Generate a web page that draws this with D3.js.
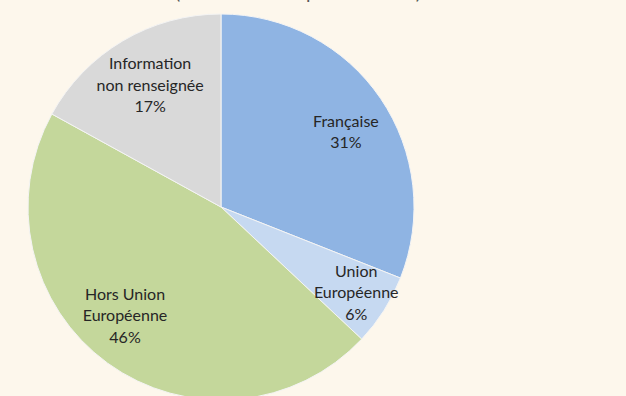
<!DOCTYPE html>
<html>
<head>
<meta charset="utf-8">
<script src="https://cdn.jsdelivr.net/npm/d3@7"></script>
<style>
  html, body { margin: 0; padding: 0; background: #fdf7ec; }
  svg { display: block; }
</style>
</head>
<body>
<svg id="chart" width="626" height="396"></svg>
<script>
// Répartition par nationalité
const categories = ["Française", "Union Européenne", "Hors Union Européenne", "Information non renseignée"];
const values = [31, 6, 46, 17];
const labelLines = [
  ["Française", "31%"],
  ["Union", "Européenne", "6%"],
  ["Hors Union", "Européenne", "46%"],
  ["Information", "non renseignée", "17%"]
];
const colors = ["#8fb4e3", "#c6d9f1", "#c4d79b", "#d9d9d9"];
const titleText = "(en % des entreprises créées)";

const svg = d3.select("#chart");
const cx = 221, cy = 207, r = 193;

// Title sits above the visible area; only its lowest strokes show
svg.append("text")
  .attr("x", 298).attr("y", -1)
  .attr("text-anchor", "middle")
  .attr("font-family", "Lato, 'Open Sans', sans-serif")
  .attr("font-size", 19.5)
  .attr("fill", "#595959")
  .text(titleText);

const data = categories.map((c, i) => ({ name: c, value: values[i], lines: labelLines[i], color: colors[i] }));

const pie = d3.pie().sort(null).value(d => d.value);
const arcs = pie(data);
const arc = d3.arc().innerRadius(0).outerRadius(r);

const g = svg.append("g").attr("transform", `translate(${cx},${cy})`);

g.selectAll("path")
  .data(arcs)
  .join("path")
  .attr("d", arc)
  .attr("fill", d => d.data.color)
  .attr("stroke", "#f4f4f4")
  .attr("stroke-width", 1);

// Label placement: fraction of radius, and angular nudge (degrees) off the bisector
const labelRadius = [0.755, 0.83, 0.752, 0.73];
const labelNudge = [3.2, 0, 5.4, 0.4];
const lineH = 21.5;

g.selectAll("text.lbl")
  .data(arcs)
  .join("text")
  .attr("class", "lbl")
  .attr("text-anchor", "middle")
  .attr("font-family", "Lato, 'Open Sans', sans-serif")
  .attr("font-size", 16)
  .attr("fill", "#262626")
  .each(function(d, i) {
    const a = (d.startAngle + d.endAngle) / 2 + labelNudge[i] * Math.PI / 180;
    const rr = r * labelRadius[i];
    const x = Math.sin(a) * rr;
    const y = -Math.cos(a) * rr;
    const n = d.data.lines.length;
    const t = d3.select(this);
    d.data.lines.forEach((ln, k) => {
      t.append("tspan")
        .attr("x", x)
        .attr("y", y + (k - (n - 1) / 2) * lineH + 5.5)
        .text(ln);
    });
  });
</script>
</body>
</html>
